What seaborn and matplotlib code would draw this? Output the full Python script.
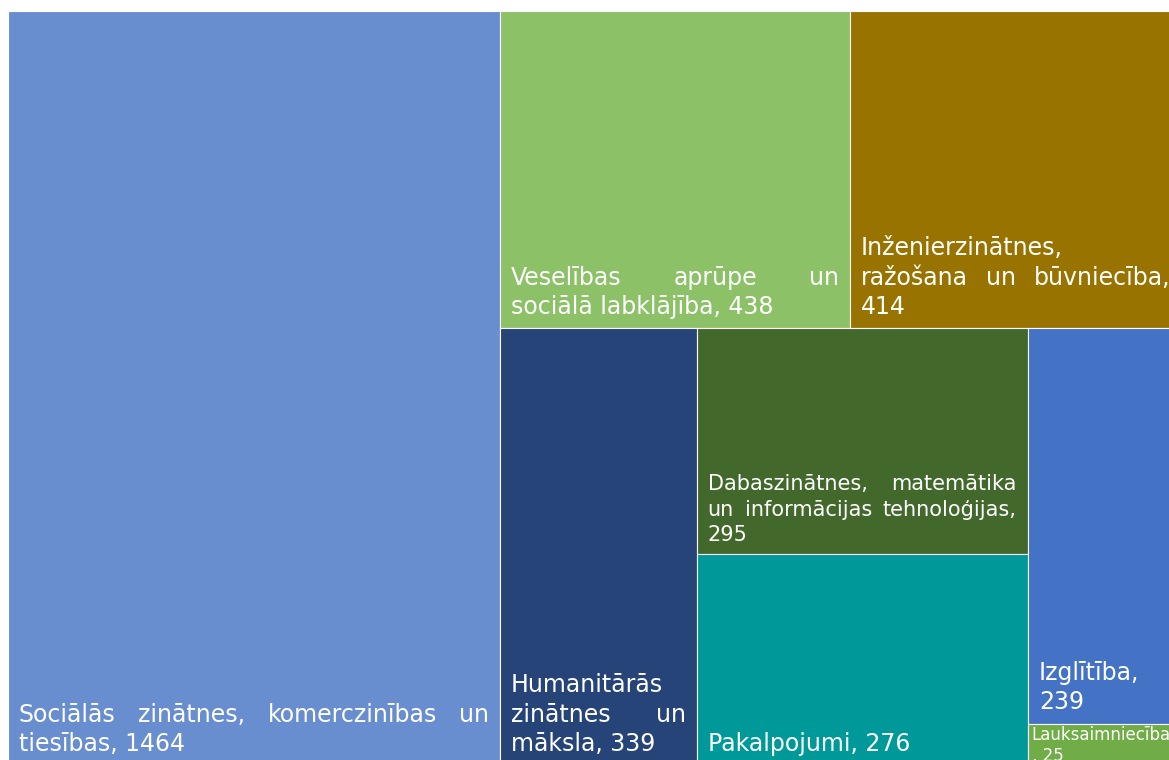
import matplotlib
matplotlib.use("Agg")
import matplotlib.pyplot as plt
from matplotlib.font_manager import FontProperties
import seaborn as sns

# ---------------- data ----------------
categories = [
    "Sociālās zinātnes, komerczinības un tiesības",
    "Veselības aprūpe un sociālā labklājība",
    "Inženierzinātnes, ražošana un būvniecība",
    "Humanitārās zinātnes un māksla",
    "Dabaszinātnes, matemātika un informācijas tehnoloģijas",
    "Pakalpojumi",
    "Izglītība",
    "Lauksaimniecība",
]
values = [1464, 438, 414, 339, 295, 276, 239, 25]
colors_hex = ["#698ED0", "#8CC168", "#997300", "#264478",
              "#43682B", "#009999", "#4472C4", "#70AD47"]

# ---------------- layout / style parameters ----------------
STRIPS = [1, 2, 1, 2, 1, 1]          # how many items per treemap strip
LEFT, TOP = 8, 11                    # treemap origin (pixels)
TM_W, TM_H = 1173, 754               # treemap full size (pixels, partly cropped)
FIG_W, FIG_H = 1169, 760
LABEL_FS = [17, 17, 17, 17, 15, 17, 17, 12]   # label font size per cell (pt)
PAD, PAD_SMALL, TOL = 11, 4, 5

sns.set_theme(style="white")
plt.rcParams["font.family"] = ["DejaVu Sans"]
palette = sns.color_palette(colors_hex)


def strip_layout(vals, x, y, w, h, strips):
    rects = []
    idx = 0
    for n in strips:
        group = vals[idx: idx + n]
        gsum = sum(group)
        rem = sum(vals[idx:])
        if w >= h:  # vertical strip on the left
            cw = w * gsum / rem
            yy = y
            for v in group:
                ch = h * v / gsum
                rects.append((x, yy, cw, ch))
                yy += ch
            x += cw
            w -= cw
        else:       # horizontal strip on top
            rh = h * gsum / rem
            xx = x
            for v in group:
                cw = w * v / gsum
                rects.append((xx, y, cw, rh))
                xx += cw
            y += rh
            h -= rh
        idx += n
    return rects


rects = strip_layout(values, LEFT, TOP, TM_W, TM_H, STRIPS)

fig = plt.figure(figsize=(FIG_W / 100, FIG_H / 100), dpi=100)
ax = fig.add_axes([0, 0, 1, 1])
ax.set_xlim(0, FIG_W)
ax.set_ylim(FIG_H, 0)
ax.axis("off")

ax.bar([r[0] for r in rects], [r[3] for r in rects],
       width=[r[2] for r in rects], bottom=[r[1] for r in rects],
       align="edge", color=palette, edgecolor="white", linewidth=0.8)

renderer = fig.canvas.get_renderer()


def tw(s, fs):
    prop = FontProperties(family="DejaVu Sans", size=fs)
    w, _, _ = renderer.get_text_width_height_descent(s, prop, ismath=False)
    return w


def wrap(text, fs, avail):
    limit = avail - TOL
    space = tw("x x", fs) - tw("xx", fs)
    words = text.split(" ")
    lines, cur = [], []

    def cur_w(ws):
        return sum(tw(t, fs) for t in ws) + space * max(len(ws) - 1, 0)

    for wd in words:
        if cur and cur_w(cur + [wd]) <= limit:
            cur.append(wd)
            continue
        if cur:
            lines.append(cur)
            cur = []
        while tw(wd, fs) > limit and len(wd) > 1:
            k = len(wd)
            while k > 1 and tw(wd[:k], fs) > limit:
                k -= 1
            lines.append([wd[:k]])
            wd = wd[k:]
        cur = [wd]
    if cur:
        lines.append(cur)
    return lines


for (x, y, w, h), cat, val, fs in zip(rects, categories, values, LABEL_FS):
    label = f"{cat}, {val}"
    lh = fs * 1.72                 # line height in px
    px = fs * 100 / 72             # font size in px
    pad = PAD
    lines = wrap(label, fs, w - 2 * pad)
    if len(lines) * lh + px * 0.2 > h:      # not enough room: top aligned
        pad = PAD_SMALL
        lines = wrap(label, fs, w - 2 * pad)
        baselines = [y + px + i * lh for i in range(len(lines))]
    else:                                   # bottom aligned
        n = len(lines)
        base = y + h - px * 0.6
        baselines = [base - (n - 1 - i) * lh for i in range(n)]
    avail = w - 2 * pad
    for i, (ln, by) in enumerate(zip(lines, baselines)):
        last = i == len(lines) - 1
        if last or len(ln) == 1:
            ax.text(x + pad, by, " ".join(ln), fontsize=fs, color="white",
                    ha="left", va="baseline")
        else:
            widths = [tw(t, fs) for t in ln]
            gap = (avail - sum(widths)) / (len(ln) - 1)
            xx = x + pad
            for t, wt in zip(ln, widths):
                ax.text(xx, by, t, fontsize=fs, color="white",
                        ha="left", va="baseline")
                xx += wt + gap

fig.savefig("out.png", dpi=100)
